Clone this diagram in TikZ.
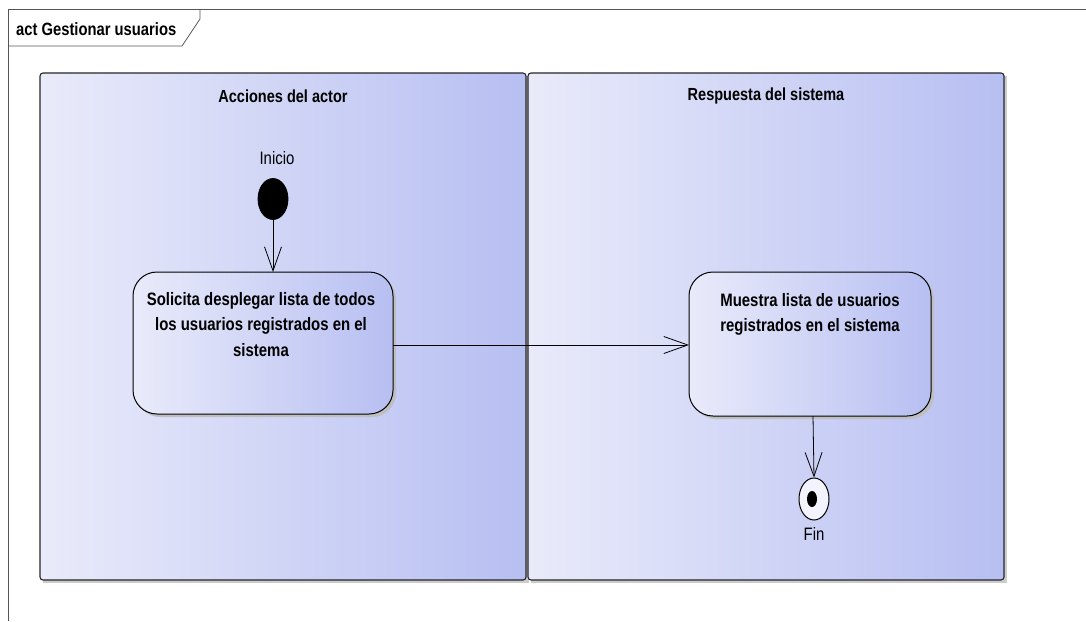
\documentclass[tikz,border=0pt]{standalone}
\usepackage{fontspec}
\setmainfont{Liberation Sans}[FakeStretch=0.83]
\usetikzlibrary{arrows.meta,shapes.geometric}
\definecolor{laneL}{HTML}{E9EBFA}
\definecolor{laneR}{HTML}{B7BFF2}
\definecolor{frameC}{HTML}{555555}
\tikzset{
  lane/.style={draw=black!85, line width=1.1pt, rounded corners=3pt, left color=laneL, right color=laneR},
  act/.style={draw=black, line width=1pt, rounded corners=24pt, left color=laneL, right color=laneR},
  lanetitle/.style={font=\bfseries\fontsize{17.5}{20}\selectfont, anchor=center},
  acttext/.style={font=\bfseries\fontsize{18}{25.5}\selectfont, align=center, anchor=north, inner sep=0pt},
  plain/.style={font=\fontsize{18}{20}\selectfont},
  flow/.style={draw=black, line width=0.8pt, -{Straight Barb[length=24pt,width=17pt,line width=0.8pt]}},
}
\begin{document}
\begin{tikzpicture}[x=1pt,y=-1pt]
\useasboundingbox (0,0) rectangle (1086,621);
\fill[white] (0,0) rectangle (1086,621);
% frame
\draw[frameC, line width=0.8pt] (8,621) -- (8,9) -- (1086,9);
\draw[frameC, line width=0.8pt] (8,46) -- (182,46) -- (200,19) -- (200,9);
\node[anchor=west, inner sep=0pt, font=\bfseries\fontsize{17.8}{20}\selectfont] (frametitle) at (16,29) {act Gestionar usuarios};
% lanes
\fill[black!20] (43,76) rectangle (529,583);
\draw[lane] (40,73) rectangle (526,580);
\fill[black!20] (531,76) rectangle (1007,583);
\draw[lane] (528,73) rectangle (1004,580);
\node[lanetitle] (lane1) at (283,96) {Acciones del actor};
\node[lanetitle] (lane2) at (766,96) {Respuesta del sistema};
% initial node
\node[plain] (iniciolbl) at (277,158) {Inicio};
\node[draw=black, line width=0.8pt, fill=black, ellipse, minimum width=30pt, minimum height=41pt, inner sep=0pt] (inicio) at (273,199) {};
% activity 1
\fill[black!25] (136,275) [rounded corners=24pt] rectangle (396,417);
\draw[act] (133,272) rectangle (393,414);
\coordinate (a1top) at (273,272);
\coordinate (a1right) at (393,345);
\node[acttext] (a1) at (261,292) {Solicita desplegar lista de todos\\los usuarios registrados en el\\sistema};
% activity 2
\fill[black!25] (692,275) [rounded corners=24pt] rectangle (934,419);
\draw[act] (689,272) rectangle (931,416);
\coordinate (a2left) at (689,345);
\coordinate (a2bot) at (813,416);
\node[acttext] (a2) at (810,293) {Muestra lista de usuarios\\registrados en el sistema};
% final node
\node[draw=black, line width=1pt, fill=laneL!60!white, ellipse, minimum width=30pt, minimum height=42pt, inner sep=0pt] (fin) at (814,499) {};
\node[fill=black, ellipse, minimum width=10pt, minimum height=16pt, inner sep=0pt] (findot) at (812,499) {};
\node[plain] (finlbl) at (814,534) {Fin};
% flows
\draw[flow] (inicio.south) -- (a1top);
\draw[flow] (a1right) -- (a2left);
\draw[flow] (a2bot) -- (fin.north);
\end{tikzpicture}
\end{document}
